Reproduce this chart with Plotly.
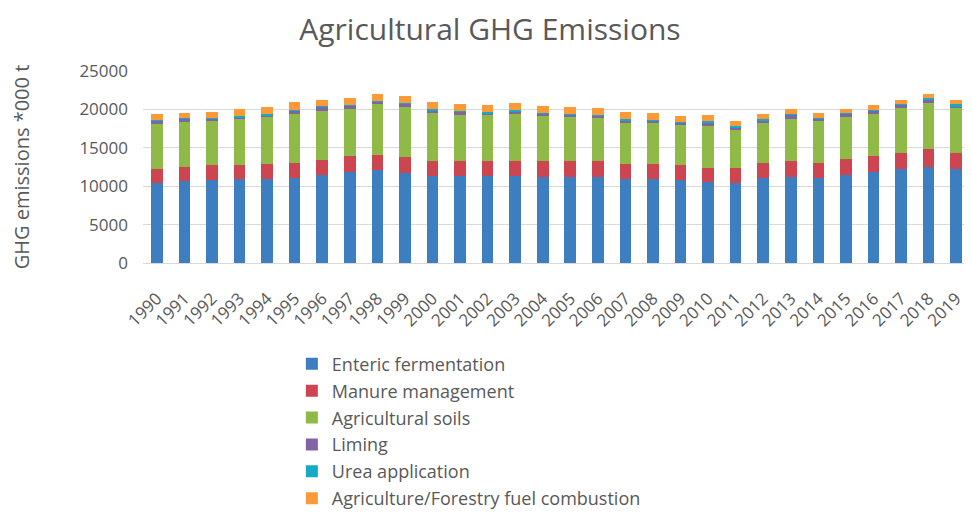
import plotly.graph_objects as go

years = [str(y) for y in range(1990, 2020)]

enteric = [10440, 10660, 10830, 10960, 10960, 11090, 11440, 11830, 12090, 11700,
           11270, 11270, 11270, 11270, 11220, 11220, 11220, 10960, 10960, 10790,
           10570, 10400, 11010, 11140, 11010, 11440, 11790, 12180, 12440, 12180]
manure = [1830, 1870, 1920, 1830, 1870, 1870, 2000, 2050, 2000, 2050,
          2000, 2000, 2000, 2000, 2000, 2000, 2050, 1870, 1910, 1910,
          1830, 1910, 2000, 2130, 2000, 2050, 2130, 2180, 2350, 2180]
soils = [5870, 5830, 5780, 5910, 6140, 6400, 6400, 6170, 6620, 6610,
         6220, 6040, 5960, 6130, 6010, 5790, 5650, 5400, 5320, 5220,
         5480, 5050, 5260, 5520, 5520, 5520, 5520, 5820, 6090, 5780]
liming = [390, 390, 250, 300, 300, 450, 480, 400, 300, 380,
          400, 400, 280, 380, 230, 300, 300, 380, 330, 330,
          450, 330, 330, 550, 300, 450, 420, 420, 450, 300]
urea = [100, 100, 100, 100, 100, 100, 100, 100, 100, 100,
        100, 100, 100, 100, 100, 100, 100, 100, 100, 100,
        100, 100, 100, 100, 100, 100, 100, 100, 100, 200]
fuel = [740, 710, 760, 910, 900, 1100, 850, 900, 860, 950,
        980, 940, 970, 910, 930, 950, 860, 910, 955, 790,
        800, 740, 660, 610, 560, 490, 620, 530, 580, 590]

series = [
    ("Enteric fermentation", enteric, "#3d7ec1"),
    ("Manure management", manure, "#cc4550"),
    ("Agricultural soils", soils, "#8fba48"),
    ("Liming", liming, "#8064a6"),
    ("Urea application", urea, "#18a9c6"),
    ("Agriculture/Forestry fuel combustion", fuel, "#fd9a38"),
]

FONT = "Open Sans"
GREY = "#595959"

fig = go.Figure()
for i, (name, vals, col) in enumerate(series):
    fig.add_trace(go.Bar(
        x=years, y=vals, name=name, legendgroup=f"g{i}",
        marker=dict(color=col, line=dict(width=0)),
    ))

# page body has an 8px margin, so the figure is sized to fit the window
fig.update_layout(
    width=964, height=505,
    barmode="stack", bargap=0.58,
    paper_bgcolor="white", plot_bgcolor="white",
    margin=dict(l=135, r=2, t=63, b=250, autoexpand=False),
    font=dict(family=FONT, color=GREY),
    title=dict(text="Agricultural GHG Emissions", x=0.5, xanchor="center",
               y=0.957, yanchor="middle",
               font=dict(family=FONT, size=30, color=GREY)),
    legend=dict(orientation="v", x=0.18, xanchor="left", y=-0.43, yanchor="top",
                traceorder="grouped", tracegroupgap=0.5,
                font=dict(family=FONT, size=18, color=GREY),
                bgcolor="rgba(0,0,0,0)"),
    showlegend=True,
)
fig.update_yaxes(range=[0, 25000], dtick=5000, tick0=0, tickformat="d",
                 showgrid=True, gridcolor="#d9d9d9", gridwidth=1,
                 zeroline=False, showline=False, ticks="",
                 ticklabelstandoff=14,
                 tickfont=dict(family=FONT, size=17, color=GREY),
                 title=dict(text="GHG emissions *000 t", standoff=48,
                            font=dict(family=FONT, size=20, color=GREY)))
fig.update_xaxes(type="category", tickangle=-45, showgrid=False,
                 showline=True, linecolor="#d9d9d9", linewidth=1, ticks="",
                 ticklabelstandoff=18,
                 tickfont=dict(family=FONT, size=17, color=GREY))

fig.write_html("out.html")
